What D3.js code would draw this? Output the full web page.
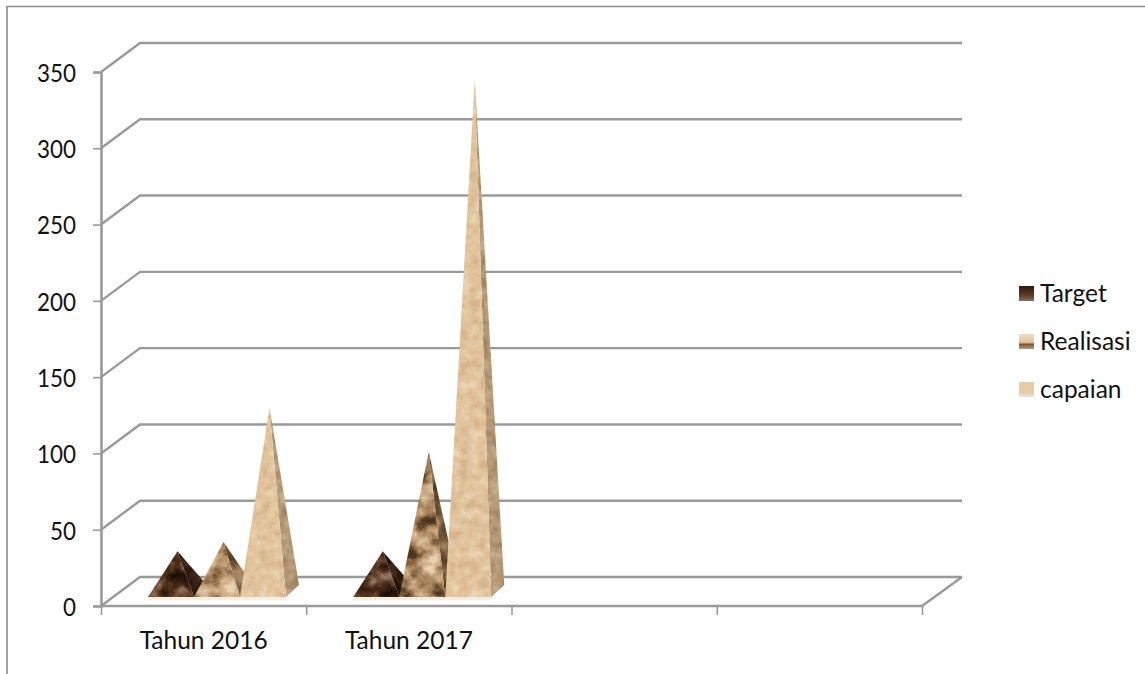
<!DOCTYPE html>
<html>
<head>
<meta charset="utf-8">
<script src="https://cdn.jsdelivr.net/npm/d3@7/dist/d3.min.js"></script>
<style>
  html, body { margin: 0; padding: 0; background: #fff; }
  svg { display: block; }
  text { font-family: Lato, "Open Sans", sans-serif; fill: #111; }
</style>
</head>
<body>
<svg id="chart" width="1145" height="674"></svg>
<script>
// Chart values
const categories = ["Tahun 2016", "Tahun 2017", " ", "  "];
const seriesNames = ["Target", "Realisasi", "capaian"];
const targetValues = [30, 30];
const realisasiValues = [36, 95];
const capaianValues = [124, 339];
const yTicks = [0, 50, 100, 150, 200, 250, 300, 350];

const seriesValues = [targetValues, realisasiValues, capaianValues];

const svg = d3.select("#chart");
const GRID = "#9a9a9a";

// Perspective of the 3D box and of each pyramid
const depth = { dx: 39, dy: -29 };
const plot = { left: 101, right: 922, bottom: 606, top: 72 };
const barDepth = { dx: 13, dy: -12 };
const baseLift = 9;

const y = d3.scaleLinear().domain([0, 350]).range([plot.bottom, plot.top]);
const xBand = d3.scaleBand().domain(categories).range([plot.left, plot.right]);
const xEdges = d3.scaleLinear().domain([0, categories.length]).range([plot.left, plot.right]);
const xSeries = d3.scaleBand().domain(seriesNames).range([47, 185]);

// Surface textures: turbulence mapped through a colour ramp, clipped to the face
const defs = svg.append("defs");
function texture(id, freq, octaves, seed, ramp) {
  const c = ramp.map(d => d3.rgb(d));
  const f = defs.append("filter").attr("id", id)
    .attr("x", "-5%").attr("y", "-5%").attr("width", "110%").attr("height", "110%")
    .attr("color-interpolation-filters", "sRGB");
  f.append("feTurbulence").attr("type", "fractalNoise")
    .attr("baseFrequency", freq).attr("numOctaves", octaves).attr("seed", seed).attr("result", "n");
  f.append("feColorMatrix").attr("in", "n").attr("type", "matrix")
    .attr("values", "1.8 0 0 0 -0.4  1.8 0 0 0 -0.4  1.8 0 0 0 -0.4  0 0 0 0 1").attr("result", "g");
  const t = f.append("feComponentTransfer").attr("in", "g").attr("result", "col");
  t.append("feFuncR").attr("type", "table").attr("tableValues", c.map(d => (d.r / 255).toFixed(3)).join(" "));
  t.append("feFuncG").attr("type", "table").attr("tableValues", c.map(d => (d.g / 255).toFixed(3)).join(" "));
  t.append("feFuncB").attr("type", "table").attr("tableValues", c.map(d => (d.b / 255).toFixed(3)).join(" "));
  f.append("feComposite").attr("in", "col").attr("in2", "SourceAlpha").attr("operator", "in");
}
texture("t0front", "0.06 0.07", 4, 3, ["#1e1007", "#341e0f", "#4c2f1b", "#6e4c36", "#917462"]);
texture("t0side", "0.07", 3, 5, ["#1a0e06", "#2c1a0e", "#4a3020"]);
texture("t1front", "0.05 0.06", 5, 8, ["#4c3420", "#83623f", "#b08c66", "#cfae88", "#e8d2b0"]);
texture("t1side", "0.06", 4, 9, ["#4a3420", "#7c5e40", "#a88a66"]);
texture("t2front", "0.1", 3, 11, ["#d6b48a", "#dfc099", "#e4c8a2", "#ecd4b4"]);
texture("t2side", "0.1", 3, 12, ["#a0825f", "#b69a78", "#c8ae8c"]);

// Legend swatch fills
const swatchStops = [
  [["0", "#2c1a0e"], ["0.6", "#5a3b26"], ["1", "#8a7060"]],
  [["0", "#f0dcc4"], ["0.55", "#e0c4a0"], ["0.7", "#7d5a3a"], ["1", "#b89a78"]],
  [["0", "#e8cca8"], ["0.7", "#e6cca8"], ["1", "#f2e4d0"]]
];
swatchStops.forEach((stops, i) => {
  const g = defs.append("linearGradient").attr("id", "sw" + i)
    .attr("x1", 0).attr("y1", 0).attr("x2", 0).attr("y2", 1);
  stops.forEach(s => g.append("stop").attr("offset", s[0]).attr("stop-color", s[1]));
});
defs.append("filter").attr("id", "soft").append("feGaussianBlur").attr("stdDeviation", 0.6);
defs.append("filter").attr("id", "glow").append("feGaussianBlur").attr("stdDeviation", 1.2);

// Outer frame: only the top and left edges fall inside the page
svg.append("path")
  .attr("d", "M7,674V6.5H1145")
  .attr("fill", "none").attr("stroke", "#8a8a8a").attr("stroke-width", 1.6);

// Back wall gridlines with their receding side-wall segments
const grid = svg.append("g").attr("fill", "none").attr("stroke", GRID).attr("stroke-width", 2.4);
grid.selectAll("path").data(yTicks).join("path")
  .attr("d", d => d3.line()([
    [plot.left, y(d)],
    [plot.left + depth.dx, y(d) + depth.dy],
    [plot.right + depth.dx + 1, y(d) + depth.dy]
  ]));

// Floor outline
grid.append("path").attr("d", d3.line()([
  [plot.left, plot.bottom],
  [plot.right, plot.bottom],
  [plot.right + depth.dx + 1, plot.bottom + depth.dy]
]));

// Value axis
const yAxis = svg.append("g").attr("transform", `translate(${plot.left},0)`)
  .call(d3.axisLeft(y).tickValues(yTicks).tickSize(8).tickPadding(17));
yAxis.select(".domain").attr("stroke", GRID).attr("stroke-width", 2.6);
yAxis.selectAll(".tick line").attr("stroke", GRID).attr("stroke-width", 1.6);
yAxis.selectAll("text")
  .attr("font-size", 24.5).attr("font-family", "Lato").attr("dy", "0.38em")
  .attr("textLength", d => String(d).length * 13)
  .attr("lengthAdjust", "spacingAndGlyphs")
  .style("fill", "#111");

// Category axis: ticks sit on the band edges
const xAxis = svg.append("g").attr("transform", `translate(0,${plot.bottom})`)
  .call(d3.axisBottom(xEdges).tickValues(d3.range(categories.length + 1)).tickSize(9).tickFormat(""));
xAxis.select(".domain").remove();
xAxis.selectAll(".tick line").attr("stroke", GRID).attr("stroke-width", 1.6);

svg.append("g").selectAll("text").data(categories).join("text")
  .attr("x", d => xBand(d) + xBand.bandwidth() / 2)
  .attr("y", 649)
  .attr("text-anchor", "middle")
  .attr("font-size", 24.5)
  .text(d => d.trim());

// Pale shadow along the pyramid bases
const floorY = plot.bottom - baseLift;
const bases = svg.append("g").attr("filter", "url(#glow)");
categories.slice(0, 2).forEach(cat => {
  bases.append("rect")
    .attr("x", xBand(cat) + xSeries.range()[0])
    .attr("y", floorY)
    .attr("width", xSeries.range()[1] - xSeries.range()[0])
    .attr("height", 3)
    .attr("fill", "#f6e6d2");
});

// Pyramids: front face and right face, later series drawn over earlier ones
const marks = svg.append("g").attr("filter", "url(#soft)");
seriesNames.forEach((name, s) => {
  categories.slice(0, 2).forEach((cat, c) => {
    const x0 = xBand(cat) + xSeries(name);
    const x1 = x0 + xSeries.bandwidth();
    const apex = [(x0 + x1) / 2 + barDepth.dx / 2, y(seriesValues[s][c]) - baseLift];
    marks.append("polygon")
      .attr("points", [[x1, floorY], [x1 + barDepth.dx, floorY + barDepth.dy], apex].join(" "))
      .attr("filter", `url(#t${s}side)`);
    marks.append("polygon")
      .attr("points", [[x0, floorY], [x1, floorY], apex].join(" "))
      .attr("filter", `url(#t${s}front)`);
  });
});

// Legend
const legend = svg.append("g").selectAll("g").data(seriesNames).join("g")
  .attr("transform", (d, i) => `translate(1019,${286 + i * 48})`);
legend.append("rect").attr("width", 15).attr("height", 15)
  .attr("fill", (d, i) => `url(#sw${i})`);
legend.append("text").attr("x", 21).attr("y", 16).attr("font-size", 24.5).text(d => d);
</script>
</body>
</html>
